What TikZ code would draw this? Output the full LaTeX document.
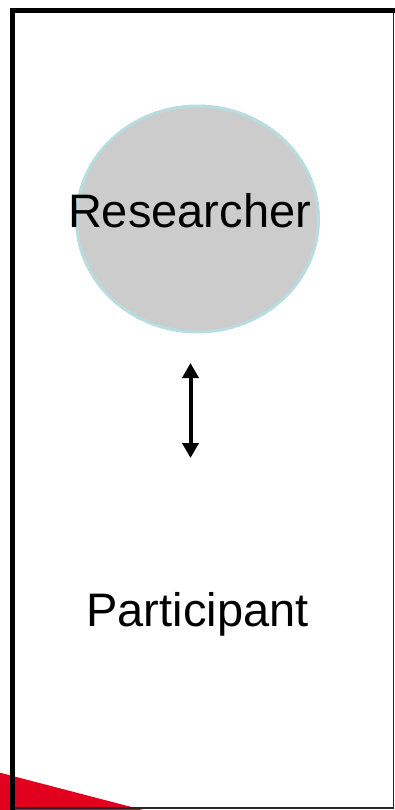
\documentclass[tikz,border=0pt]{standalone}
\usepackage{fontspec}
\setmainfont{Liberation Sans}
\usetikzlibrary{arrows.meta, shapes.geometric}

\definecolor{cornerred}{HTML}{E2001F}
\definecolor{ringblue}{HTML}{B7DDE0}
\definecolor{discgray}{HTML}{CCCCCC}

\begin{document}
\begin{tikzpicture}[x=1pt, y=-1pt]
    \useasboundingbox (0, 0) rectangle (395, 810); % bounding box

    % red corner
    \fill [cornerred] (0, 772.7) -- (143, 810) -- (0, 810) -- cycle;

    % frame
    \draw [line width=1.5pt, black!85] (12.5, 808) -- (393.5, 808) -- (393.5, 10.5);
    \draw [line width=5pt] (12.5, 810) -- (12.5, 10.5) -- (395, 10.5);

    % researcher
    \node at (197.5, 219) [ellipse, draw=ringblue, line width=3pt, fill=discgray,
        minimum width=242pt, minimum height=226pt, inner sep=0pt] (researcher) {};

    % labels
    \begin{scope}[every node/.style={anchor=base, inner sep=0pt, font=\fontsize{47}{56}\selectfont}]
        \node at (189.5, 227)   (researchertext)  {Researcher};
        \node at (197.5, 626.7) (participant)     {Participant};
    \end{scope}

    % relation
    \coordinate (up)   at (190.5, 363);
    \coordinate (down) at (190.5, 458);
    \draw [line width=4pt, {Triangle[width=16pt, length=15pt]}-{Triangle[width=16pt, length=15pt]}] (up) -- (down);
\end{tikzpicture}
\end{document}
